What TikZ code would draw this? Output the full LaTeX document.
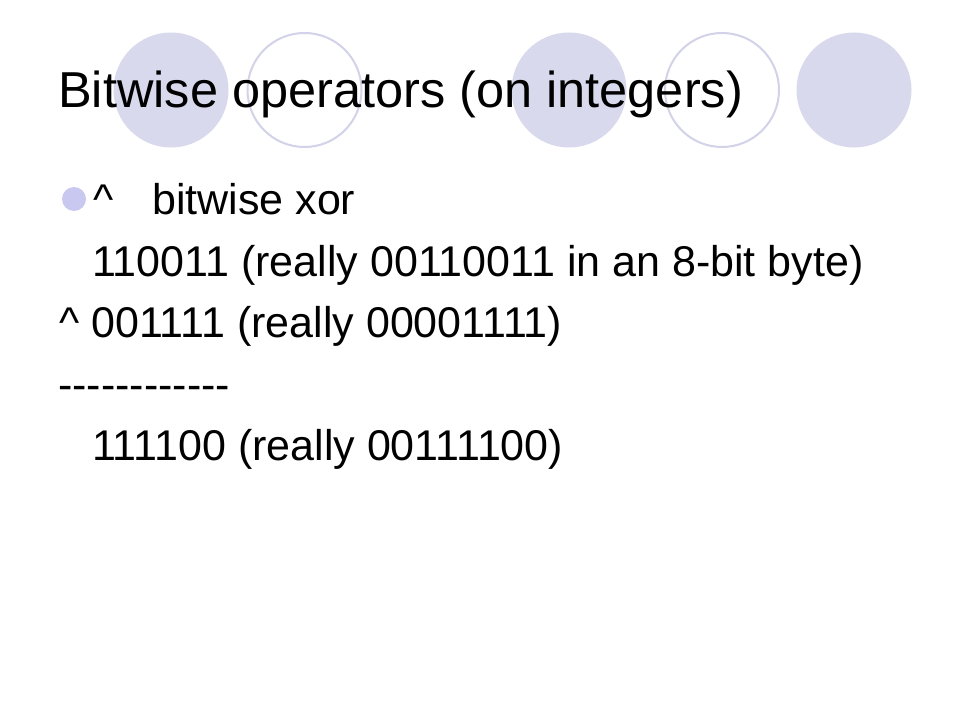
\documentclass[tikz,border=0pt]{standalone}
\usepackage{fontspec}
\setmainfont{Liberation Sans}
\definecolor{lav}{HTML}{D9D9EE}
\definecolor{lavline}{HTML}{D2D2E8}
\definecolor{bulletcol}{HTML}{C8C8F0}
\newcommand{\onedash}{\mbox{-}}
\begin{document}
\begin{tikzpicture}[x=1bp,y=-1bp,
  filledcirc/.style={fill=lav,draw=none},
  ringcirc/.style={draw=lavline,line width=2bp,fill=none},
  titletext/.style={anchor=base west,inner sep=0pt,font=\fontsize{50.5bp}{60bp}\selectfont},
  bodytext/.style={anchor=base west,inner sep=0pt,font=\fontsize{43bp}{50bp}\selectfont}]
\useasboundingbox[fill=white] (0,0) rectangle (960,720);
\fill[filledcirc] (171,90) circle (57.5bp);
\draw[ringcirc] (304.5,90) circle (57bp);
\fill[filledcirc] (569,90) circle (57.5bp);
\draw[ringcirc] (722,90) circle (57bp);
\fill[filledcirc] (854,90) circle (57.5bp);
\node[titletext] (title) at (58,108) {Bitwise operators (on integers)};
\fill[bulletcol] (74,199) circle (12bp);
\node[bodytext] (caret) at (93,214) {\^{}};
\node[bodytext] (xor) at (152,214) {bitwise xor};
\node[bodytext] (l1) at (92,276) {110011 (really 00110011 in an 8-bit byte)};
\node[bodytext] (l2) at (59,337) {\^{} 001111 (really 00001111)};
\node[bodytext] (l3) at (58,399) {\onedash\onedash\onedash\onedash\onedash\onedash\onedash\onedash\onedash\onedash\onedash\onedash};
\node[bodytext] (l4) at (92,460) {111100 (really 00111100)};
\end{tikzpicture}
\end{document}
